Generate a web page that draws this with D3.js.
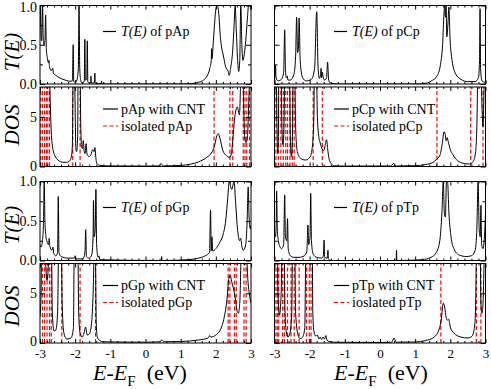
<!DOCTYPE html>
<html>
<head>
<meta charset="utf-8">
<script src="https://cdn.jsdelivr.net/npm/d3@7"></script>
<style>
  body { margin: 0; background: #fff; }
  text { font-family: "Liberation Serif", "Times New Roman", serif; }
</style>
</head>
<body>
<div id="chart"></div>
<script>
// ---- data: [E - E_F (eV), value] ----
// transmission T(E)
const tA = [[-3.0,0.72],[-2.985,1.0],[-2.97,0.62],[-2.955,0.55],[-2.94,0.75],[-2.925,1.0],[-2.91,0.6],[-2.89,0.5],[-2.86,0.55],[-2.84,0.88],[-2.82,0.45],[-2.79,0.33],[-2.76,0.27],[-2.745,0.3],[-2.73,0.22],[-2.68,0.17],[-2.635,0.2],[-2.62,0.14],[-2.55,0.11],[-2.45,0.08],[-2.35,0.06],[-2.25,0.045],[-2.15,0.035],[-2.08,0.04],[-2.055,0.5],[-2.04,0.03],[-2.0,0.02],[-1.95,0.05],[-1.91,0.2],[-1.89,1.0],[-1.87,0.2],[-1.84,0.04],[-1.8,0.01],[-1.74,0.04],[-1.725,0.57],[-1.71,0.05],[-1.67,0.06],[-1.655,0.55],[-1.64,0.03],[-1.6,0.01],[-1.56,0.02],[-1.55,0.1],[-1.54,0.01],[-1.45,0.02],[-1.44,0.14],[-1.43,0.01],[-1.26,0.005],[-1.25,0.04],[-1.24,0.0],[1.0,0.0],[1.3,0.005],[1.5,0.02],[1.65,0.05],[1.75,0.1],[1.83,0.2],[1.87,0.3],[1.88,0.45],[1.89,0.32],[1.93,0.55],[1.97,0.8],[2.0,0.95],[2.04,1.0],[2.07,0.95],[2.1,0.8],[2.12,0.65],[2.16,0.48],[2.21,0.37],[2.28,0.22],[2.35,0.16],[2.38,0.11],[2.42,0.2],[2.48,0.43],[2.52,0.75],[2.55,1.0],[2.58,0.7],[2.62,0.3],[2.65,0.16],[2.68,0.3],[2.71,1.0],[2.74,0.5],[2.77,0.3],[2.8,0.35],[2.85,0.55],[2.9,0.85],[2.93,1.0],[2.97,1.0],[3.0,0.95]];
const tC = [[-3.0,0.05],[-2.985,0.1],[-2.97,0.24],[-2.955,0.08],[-2.9,0.04],[-2.8,0.06],[-2.74,0.15],[-2.71,0.69],[-2.69,0.2],[-2.665,0.08],[-2.635,0.1],[-2.62,0.05],[-2.55,0.05],[-2.45,0.12],[-2.4,0.35],[-2.37,0.85],[-2.345,0.4],[-2.32,0.45],[-2.3,0.84],[-2.27,0.3],[-2.2,0.08],[-2.1,0.04],[-1.95,0.06],[-1.86,0.2],[-1.8,0.92],[-1.76,0.2],[-1.72,0.07],[-1.69,0.12],[-1.675,0.2],[-1.66,0.08],[-1.64,0.15],[-1.62,0.1],[-1.58,0.05],[-1.52,0.08],[-1.49,0.28],[-1.46,0.05],[-1.4,0.01],[-1.2,0.0],[1.0,0.0],[1.3,0.01],[1.5,0.05],[1.62,0.1],[1.72,0.25],[1.78,0.5],[1.82,0.9],[1.84,1.0],[1.86,0.85],[1.88,1.0],[1.9,0.6],[1.93,0.75],[1.96,0.98],[1.99,0.6],[2.05,0.3],[2.15,0.13],[2.3,0.06],[2.5,0.03],[2.7,0.03],[2.8,0.08],[2.83,0.3],[2.845,0.96],[2.86,0.2],[2.9,0.04],[3.0,0.02]];
const tG = [[-3.0,0.2],[-2.97,0.17],[-2.93,0.25],[-2.9,0.5],[-2.88,1.0],[-2.86,0.5],[-2.83,0.3],[-2.8,0.24],[-2.76,0.2],[-2.74,0.28],[-2.72,0.18],[-2.66,0.13],[-2.63,0.17],[-2.61,0.09],[-2.55,0.06],[-2.5,0.1],[-2.48,0.81],[-2.46,0.1],[-2.4,0.05],[-2.2,0.03],[-2.02,0.03],[-2.0,0.06],[-1.98,0.02],[-1.78,0.02],[-1.74,0.06],[-1.72,0.12],[-1.7,0.39],[-1.68,0.05],[-1.6,0.03],[-1.53,0.07],[-1.49,0.3],[-1.48,0.76],[-1.46,0.3],[-1.43,0.4],[-1.41,0.9],[-1.39,0.2],[-1.35,0.04],[-1.32,0.06],[-1.3,0.01],[0.45,0.0],[0.46,0.05],[0.47,0.0],[1.2,0.01],[1.5,0.03],[1.7,0.06],[1.82,0.1],[1.85,0.64],[1.87,0.12],[1.89,0.3],[1.91,0.12],[2.0,0.15],[2.1,0.22],[2.2,0.32],[2.28,0.5],[2.34,0.8],[2.38,1.0],[2.45,0.9],[2.52,1.0],[2.56,0.75],[2.62,0.38],[2.68,0.25],[2.71,0.28],[2.74,0.18],[2.78,0.13],[2.85,0.2],[2.89,0.5],[2.92,0.93],[2.95,0.5],[2.98,0.4],[3.0,0.45]];
const tT = [[-3.0,0.36],[-2.97,0.3],[-2.95,0.5],[-2.94,0.88],[-2.92,0.4],[-2.89,0.25],[-2.85,0.18],[-2.8,0.15],[-2.74,0.2],[-2.71,0.83],[-2.69,0.3],[-2.65,0.25],[-2.63,0.53],[-2.61,0.15],[-2.55,0.06],[-2.45,0.04],[-2.3,0.04],[-2.15,0.06],[-2.08,0.12],[-2.05,0.45],[-2.03,0.2],[-1.99,0.3],[-1.97,0.85],[-1.95,0.25],[-1.9,0.08],[-1.8,0.04],[-1.65,0.03],[-1.61,0.06],[-1.59,0.26],[-1.575,0.04],[-1.5,0.03],[-1.48,0.13],[-1.465,0.02],[-1.4,0.0],[0.46,0.0],[0.47,0.13],[0.48,0.0],[1.2,0.01],[1.45,0.04],[1.6,0.1],[1.7,0.25],[1.76,0.6],[1.8,1.0],[1.83,0.6],[1.86,0.55],[1.89,1.0],[1.92,1.0],[1.96,0.6],[2.02,0.3],[2.1,0.15],[2.25,0.07],[2.45,0.05],[2.6,0.06],[2.7,0.12],[2.75,0.35],[2.79,1.0],[2.82,0.4],[2.85,0.3],[2.87,0.7],[2.89,0.2],[2.93,0.15],[2.97,0.3],[3.0,0.6]];

// DOS of the molecule on the tube (values above 8 run off the top)
const dA = [[-3.0,12],[-2.75,12],[-2.72,8],[-2.68,3.5],[-2.63,1.7],[-2.58,1.1],[-2.53,0.8],[-2.45,0.55],[-2.35,0.42],[-2.25,0.42],[-2.18,0.5],[-2.12,0.8],[-2.08,2],[-2.05,12],[-2.01,8],[-1.98,1.8],[-1.96,1.5],[-1.93,3],[-1.91,12],[-1.87,12],[-1.84,4],[-1.82,2.0],[-1.79,1.8],[-1.77,2.6],[-1.745,1.6],[-1.72,1.3],[-1.69,2.3],[-1.66,1.2],[-1.6,1.0],[-1.55,1.2],[-1.5,1.7],[-1.46,1.5],[-1.44,1.9],[-1.41,0.8],[-1.38,0.3],[-1.3,0.12],[-1.1,0.06],[0.0,0.04],[0.38,0.06],[0.44,0.3],[0.5,0.06],[1.0,0.1],[1.3,0.25],[1.5,0.45],[1.73,0.9],[1.9,1.5],[1.97,2.2],[2.03,3.1],[2.07,3.3],[2.12,2.8],[2.2,1.6],[2.3,1.1],[2.4,0.9],[2.45,1.5],[2.54,5.0],[2.61,6.0],[2.67,5.2],[2.71,9],[2.74,12],[2.78,8],[2.82,3],[2.86,2.4],[2.9,3],[2.95,8],[3.0,12]];
const dC = [[-3.0,12],[-2.96,12],[-2.93,4],[-2.91,1.3],[-2.89,3],[-2.87,12],[-2.82,12],[-2.79,4],[-2.76,2.2],[-2.73,4],[-2.7,12],[-2.58,12],[-2.55,3],[-2.52,1.0],[-2.49,3],[-2.46,12],[-2.43,12],[-2.4,4],[-2.35,1.5],[-2.25,0.8],[-2.13,0.65],[-2.0,0.9],[-1.93,1.8],[-1.88,5],[-1.86,12],[-1.82,12],[-1.78,5],[-1.74,3.0],[-1.71,2.5],[-1.67,2.0],[-1.6,1.6],[-1.55,2.3],[-1.52,2.7],[-1.49,1.8],[-1.45,0.8],[-1.39,0.3],[-1.3,0.08],[-1.0,0.04],[0.3,0.05],[0.39,0.3],[0.46,0.05],[1.0,0.08],[1.3,0.2],[1.5,0.4],[1.6,0.7],[1.7,1.1],[1.77,2.3],[1.82,3.5],[1.86,3.1],[1.88,2.6],[1.91,2.9],[1.94,2.5],[2.0,1.7],[2.07,1.2],[2.2,0.6],[2.4,0.3],[2.55,0.25],[2.65,0.5],[2.72,1.5],[2.76,5],[2.79,12],[2.86,12],[2.9,6],[2.93,4],[2.96,8],[3.0,12]];
const dG = [[-3.0,2.6],[-2.97,5],[-2.95,12],[-2.88,12],[-2.84,8],[-2.8,6.3],[-2.76,8],[-2.73,12],[-2.68,12],[-2.65,3],[-2.6,1.2],[-2.55,1.3],[-2.5,3],[-2.46,12],[-2.4,12],[-2.37,4],[-2.32,1.0],[-2.24,0.4],[-2.12,0.5],[-2.05,1.5],[-2.02,12],[-1.93,12],[-1.9,3],[-1.86,1.0],[-1.8,0.6],[-1.75,1.0],[-1.7,1.6],[-1.66,0.8],[-1.6,0.9],[-1.54,1.8],[-1.5,4],[-1.48,6.2],[-1.45,12],[-1.42,8],[-1.4,2],[-1.37,0.6],[-1.3,0.25],[-1.2,0.12],[0.0,0.08],[0.4,0.12],[0.46,0.3],[0.52,0.12],[1.0,0.15],[1.5,0.3],[1.78,0.5],[1.83,0.75],[1.86,0.6],[2.0,0.8],[2.15,1.5],[2.25,2.8],[2.32,4.5],[2.37,6.5],[2.41,6.8],[2.45,6.2],[2.5,5.5],[2.55,4.6],[2.6,3.3],[2.64,3.0],[2.68,4],[2.72,9],[2.75,12],[2.85,12],[2.9,7],[2.95,5],[3.0,4]];
const dT = [[-3.0,12],[-2.93,12],[-2.9,5],[-2.86,2.8],[-2.81,5],[-2.78,12],[-2.73,12],[-2.7,3],[-2.66,1.0],[-2.62,0.6],[-2.56,1.0],[-2.51,3],[-2.48,12],[-2.43,12],[-2.4,3],[-2.33,0.8],[-2.27,0.45],[-2.2,0.6],[-2.14,1.5],[-2.1,12],[-1.93,12],[-1.91,3],[-1.88,1.2],[-1.83,0.7],[-1.78,0.8],[-1.74,0.4],[-1.7,0.6],[-1.66,0.35],[-1.62,0.6],[-1.58,0.4],[-1.54,0.75],[-1.51,0.3],[-1.45,0.15],[-1.3,0.08],[0.0,0.05],[0.33,0.08],[0.4,0.5],[0.46,0.08],[1.0,0.1],[1.3,0.25],[1.5,0.5],[1.65,1.1],[1.74,2.3],[1.8,4.0],[1.84,3.6],[1.88,2.6],[1.92,2.3],[1.95,2.4],[2.0,1.6],[2.1,1.0],[2.3,0.6],[2.5,0.5],[2.62,0.7],[2.7,2],[2.73,6],[2.75,12],[2.84,12],[2.87,4],[2.9,3],[2.93,4],[2.96,8],[3.0,12]];

// levels of the isolated molecules (red dashed)
const lA = [-2.98,-2.93,-2.87,-2.82,-2.78,-2.73,-2.07,-1.86,1.95,2.4,2.48,2.78,2.83,2.88,2.96];
const lC = [-2.96,-2.89,-2.82,-2.75,-2.68,-2.63,-2.56,-2.49,-2.44,-1.9,-1.64,1.62,2.58,2.93];
const lG = [-2.93,-2.87,-2.8,-2.73,-2.68,-2.38,-1.86,-1.42,2.35,2.4,2.53,2.58,2.8,2.86];
const lT = [-2.96,-2.92,-2.88,-2.77,-2.72,-2.63,-2.53,-2.44,-2.3,-2.09,-2.01,-1.96,1.73,2.74,2.87];

const xMajor = [-3,-2,-1,0,1,2,3];
const tTicks = [0, 0.5, 1];
const dTicks = [0, 5];

// ---- layout ----
const W = 491, H = 389;
const cols = [[40, 251], [274.5, 485.5]];
const rows = [[5.5, 84], [87, 166.5], [181.5, 260.5], [263.5, 343]];
const serif = "'Liberation Serif', 'Times New Roman', serif";

const svg = d3.select("#chart").append("svg")
  .attr("width", W).attr("height", H)
  .attr("font-family", serif);

const panels = [
  {c:0, r:0, kind:"T", data:tA, mol:"pAp"},
  {c:0, r:1, kind:"D", data:dA, lev:lA, mol:"pAp", iso:"isolated pAp"},
  {c:1, r:0, kind:"T", data:tC, mol:"pCp"},
  {c:1, r:1, kind:"D", data:dC, lev:lC, mol:"pCp", iso:"isolated pCp"},
  {c:0, r:2, kind:"T", data:tG, mol:"pGp"},
  {c:0, r:3, kind:"D", data:dG, lev:lG, mol:"pGp", iso:"isolated pGp"},
  {c:1, r:2, kind:"T", data:tT, mol:"pTp"},
  {c:1, r:3, kind:"D", data:dT, lev:lT, mol:"pTp", iso:"ioslated pTp"}
];

const xMinor = d3.range(-3, 3.001, 0.2).map(v => +v.toFixed(1)).filter(v => !xMajor.includes(v));

panels.forEach((p, i) => {
  const x = d3.scaleLinear().domain([-3, 3]).range(cols[p.c]);
  const y = d3.scaleLinear().domain(p.kind === "T" ? [0, 1] : [0, 8]).range([rows[p.r][1], rows[p.r][0]]);
  const [x0, x1] = cols[p.c], [y0, y1] = rows[p.r];
  const g = svg.append("g");

  svg.append("clipPath").attr("id", "clip" + i)
    .append("rect").attr("x", x0).attr("y", y0).attr("width", x1 - x0).attr("height", y1 - y0);

  const plot = g.append("g").attr("clip-path", `url(#clip${i})`);

  // isolated-molecule levels
  if (p.lev) {
    plot.selectAll("line.lev").data(p.lev).enter().append("line")
      .attr("x1", d => x(d)).attr("x2", d => x(d))
      .attr("y1", y(0)).attr("y2", y(8))
      .attr("stroke", "#ff0000").attr("stroke-width", 1.2)
      .attr("stroke-dasharray", "4,2.5");
  }

  const line = d3.line().x(d => x(d[0])).y(d => y(d[1])).curve(d3.curveMonotoneX);
  plot.append("path").datum(p.data)
    .attr("d", line).attr("fill", "none")
    .attr("stroke", "#000").attr("stroke-width", 1);

  // axes, ticks pointing inward on all four sides
  const yMajor = p.kind === "T" ? tTicks : dTicks;
  const yMinor = p.kind === "T" ? [0.25, 0.75] : [];
  const showX = p.r === 3, showY = p.c === 0;

  const fmtY = p.kind === "T" ? d3.format(".1f") : d3.format("d");
  const xLab = g.append("g").attr("transform", `translate(0,${y1})`)
      .call(d3.axisBottom(x).tickValues(xMajor).tickSize(-4).tickPadding(6)
        .tickFormat(showX ? (d => String(d)) : ""));
  const yLab = g.append("g").attr("transform", `translate(${x0},0)`)
      .call(d3.axisLeft(y).tickValues(yMajor).tickSize(-5).tickPadding(3)
        .tickFormat(showY ? fmtY : ""));
  const axes = [
    xLab, yLab,
    g.append("g").attr("transform", `translate(0,${y1})`)
      .call(d3.axisBottom(x).tickValues(xMinor).tickSize(-2).tickFormat("")),
    g.append("g").attr("transform", `translate(0,${y0})`)
      .call(d3.axisTop(x).tickValues(xMajor).tickSize(-4).tickFormat("")),
    g.append("g").attr("transform", `translate(0,${y0})`)
      .call(d3.axisTop(x).tickValues(xMinor).tickSize(-2).tickFormat("")),
    g.append("g").attr("transform", `translate(${x0},0)`)
      .call(d3.axisLeft(y).tickValues(yMinor).tickSize(-3).tickFormat("")),
    g.append("g").attr("transform", `translate(${x1},0)`)
      .call(d3.axisRight(y).tickValues(yMajor).tickSize(-5).tickFormat("")),
    g.append("g").attr("transform", `translate(${x1},0)`)
      .call(d3.axisRight(y).tickValues(yMinor).tickSize(-3).tickFormat(""))
  ];
  axes.forEach(a => {
    a.attr("font-family", serif);
    a.select(".domain").remove();
    a.selectAll("line").attr("stroke", "#000");
    a.selectAll("text").attr("font-family", serif).attr("font-size", 14).attr("fill", "#000");
  });
  xLab.selectAll("text").attr("font-size", 13);
  // keep the corner labels clear of the page edge and of the x labels
  if (p.r === 0) yLab.selectAll("text").filter(d => d === 1).attr("dy", "0.45em");
  if (p.r === 3) yLab.selectAll("text").filter(d => d === 0).attr("dy", "0.2em");

  g.append("rect").attr("x", x0).attr("y", y0).attr("width", x1 - x0).attr("height", y1 - y0)
    .attr("fill", "none").attr("stroke", "#000").attr("stroke-width", 1);

  // legend
  const lx = p.c === 0 ? 103 : 334;
  const tx = p.c === 0 ? 121 : 352;
  if (p.kind === "T") {
    const ly = y0 + 26;
    g.append("line").attr("x1", lx).attr("x2", lx + 13).attr("y1", ly).attr("y2", ly)
      .attr("stroke", "#000").attr("stroke-width", 1.2);
    const t = g.append("text").attr("x", tx).attr("y", ly + 4.5).attr("font-size", 14);
    t.append("tspan").attr("font-style", "italic").text("T(E)");
    t.append("tspan").text(" of " + p.mol);
  } else {
    const ly1 = y0 + 22, ly2 = y0 + 39;
    g.append("line").attr("x1", lx).attr("x2", lx + 15).attr("y1", ly1).attr("y2", ly1)
      .attr("stroke", "#000").attr("stroke-width", 1.2);
    g.append("line").attr("x1", lx).attr("x2", lx + 15).attr("y1", ly2).attr("y2", ly2)
      .attr("stroke", "#ff0000").attr("stroke-width", 1.2).attr("stroke-dasharray", "4,2.5");
    g.append("text").attr("x", tx).attr("y", ly1 + 4.5).attr("font-size", 14).text(p.mol + " with CNT");
    g.append("text").attr("x", tx).attr("y", ly2 + 4.5).attr("font-size", 14).text(p.iso);
  }
});

// y titles
[[52, "T(E)"], [125, "DOS"], [225, "T(E)"], [306, "DOS"]].forEach(([cy, s]) => {
  svg.append("text").attr("transform", `translate(19,${cy}) rotate(-90)`)
    .attr("text-anchor", "middle").attr("font-size", 21).attr("font-style", "italic")
    .text(s);
});

// x titles
[140, 381].forEach(cx => {
  const t = svg.append("text").attr("x", cx).attr("y", 380).attr("text-anchor", "middle").attr("font-size", 22);
  t.append("tspan").attr("font-style", "italic").text("E");
  t.append("tspan").text("-");
  t.append("tspan").attr("font-style", "italic").text("E");
  t.append("tspan").attr("font-size", 15).attr("dy", 6).text("F");
  t.append("tspan").attr("dy", -6).text("\u2002(eV)");
});
</script>
</body>
</html>
